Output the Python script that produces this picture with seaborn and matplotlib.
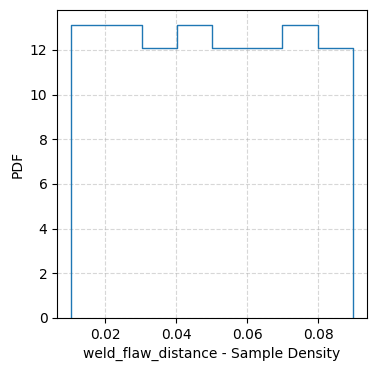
import numpy as np
import pandas as pd
import matplotlib
matplotlib.use("Agg")
import matplotlib.pyplot as plt
import seaborn as sns

# Histogram of weld_flaw_distance: range, number of bins, sample counts per bin
bin_range = (0.0104, 0.0897)
n_bins = 8
bin_counts = [13, 13, 12, 13, 12, 12, 13, 12]

width = (bin_range[1] - bin_range[0]) / n_bins
centers = [bin_range[0] + width * (i + 0.5) for i in range(n_bins)]
df = pd.DataFrame({"weld_flaw_distance": centers, "count": bin_counts})

fig, ax = plt.subplots(figsize=(3.76, 3.71), dpi=100)
sns.histplot(data=df, x="weld_flaw_distance", weights="count", bins=n_bins,
             binrange=bin_range, stat="density", element="step", fill=False,
             color="#1f77b4", linewidth=1.0, ax=ax)
# close the step outline down to the baseline at both ends (like histtype='step')
line = ax.lines[-1]
x, y = line.get_data()
line.set_data(np.r_[x[0], x, x[-1]], np.r_[0, y, 0])
line.set_color("#1f77b4")
line.set_alpha(1.0)
ax.relim()
ax.autoscale_view()
ax.set_ylim(bottom=0)
ax.set_xlabel("weld_flaw_distance - Sample Density")
ax.set_ylabel("PDF")
ax.grid(True, linestyle="--", alpha=0.5)
ax.set_axisbelow(True)
fig.subplots_adjust(left=0.152, right=0.976, top=0.972, bottom=0.143)
fig.savefig("out.png", dpi=100)
